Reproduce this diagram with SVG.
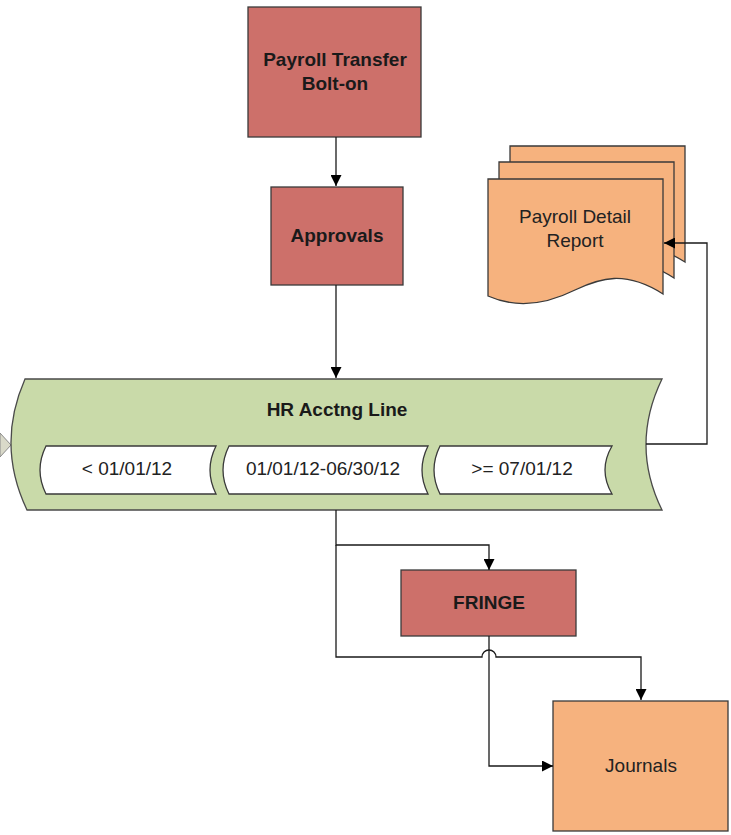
<svg xmlns="http://www.w3.org/2000/svg" width="731" height="835" viewBox="0 0 731 835">
<style>
.red{fill:#CD706A;stroke:#3a3a3a;stroke-width:1.3}
.org{fill:#F6B27E;stroke:#3a3a3a;stroke-width:1.3}
.grn{fill:#C9DAA9;stroke:#4a4a4a;stroke-width:1.3}
.wht{fill:#FFFFFF;stroke:#3a3a3a;stroke-width:1.3}
.b{font-family:"Liberation Sans",Arial,sans-serif;font-weight:bold;font-size:19px;fill:#1a1a1a;text-anchor:middle}
.r{font-family:"Liberation Sans",Arial,sans-serif;font-size:19px;fill:#222;text-anchor:middle}
.c{fill:none;stroke:#1a1a1a;stroke-width:1.3}
</style>
<defs>
<marker id="ah" viewBox="0 0 10 10" refX="10" refY="5" markerWidth="11" markerHeight="11" markerUnits="userSpaceOnUse" orient="auto">
<path d="M0,0 L10,5 L0,10 Z" fill="#000"/>
</marker>
</defs>

<g id="side-marker">
<polygon points="0,433 11,445 0,457" fill="#D9D9C9" stroke="#8a8a8a" stroke-width="1"/>
</g>

<g id="payroll-transfer">
<rect class="red" x="248" y="7" width="173" height="130"/>
<text class="b" x="335" y="66">Payroll Transfer</text>
<text class="b" x="335" y="90">Bolt-on</text>
</g>

<g id="approvals">
<rect class="red" x="271" y="187" width="132" height="98"/>
<text class="b" x="337" y="242">Approvals</text>
</g>

<g id="payroll-detail-report">
<path class="org" d="M510,146 H685 V262 C647,238 622,246 597,258 C567,273 537,275 510,264 Z"/>
<path class="org" d="M499,162 H674 V278 C636,254 611,262 586,274 C556,289 526,291 499,280 Z"/>
<path class="org" d="M488,179 H663 V294 C625,270 600,278 575,290 C545,305 515,308 488,296 Z"/>
<text class="r" x="575" y="223">Payroll Detail</text>
<text class="r" x="575" y="247">Report</text>
</g>

<g id="hr-acctng-line">
<path class="grn" d="M25,379 H662 Q630,445 662,510 H27 Q-4,445 25,379 Z"/>
<text class="b" x="337" y="416">HR Acctng Line</text>
<g id="range-1">
<path class="wht" d="M46,446 H216 Q204,470 216,494 H46 Q34,470 46,446 Z"/>
<text class="r" x="127" y="475">&lt; 01/01/12</text>
</g>
<g id="range-2">
<path class="wht" d="M229,446 H428 Q416,470 428,494 H229 Q217,470 229,446 Z"/>
<text class="r" x="323" y="475">01/01/12-06/30/12</text>
</g>
<g id="range-3">
<path class="wht" d="M440,446 H612 Q598,470 612,494 H440 Q428,470 440,446 Z"/>
<text class="r" x="522" y="475">&gt;= 07/01/12</text>
</g>
</g>

<g id="fringe">
<rect class="red" x="401" y="570" width="175" height="66"/>
<text class="b" x="489" y="609">FRINGE</text>
</g>

<g id="journals">
<rect class="org" x="553" y="701" width="175" height="130"/>
<text class="r" x="641" y="772">Journals</text>
</g>

<g id="connectors">
<path class="c" d="M336,137 V186" marker-end="url(#ah)"/>
<path class="c" d="M336,285 V378" marker-end="url(#ah)"/>
<path class="c" d="M646,444 H707 V243 H664" marker-end="url(#ah)"/>
<path class="c" d="M336,510 V545 H489 V570" marker-end="url(#ah)"/>
<path class="c" d="M336,545 V657 H482 A7,7 0 0 1 496,657 H641 V700" marker-end="url(#ah)"/>
<path class="c" d="M489,636 V766 H553" marker-end="url(#ah)"/>
</g>
</svg>
